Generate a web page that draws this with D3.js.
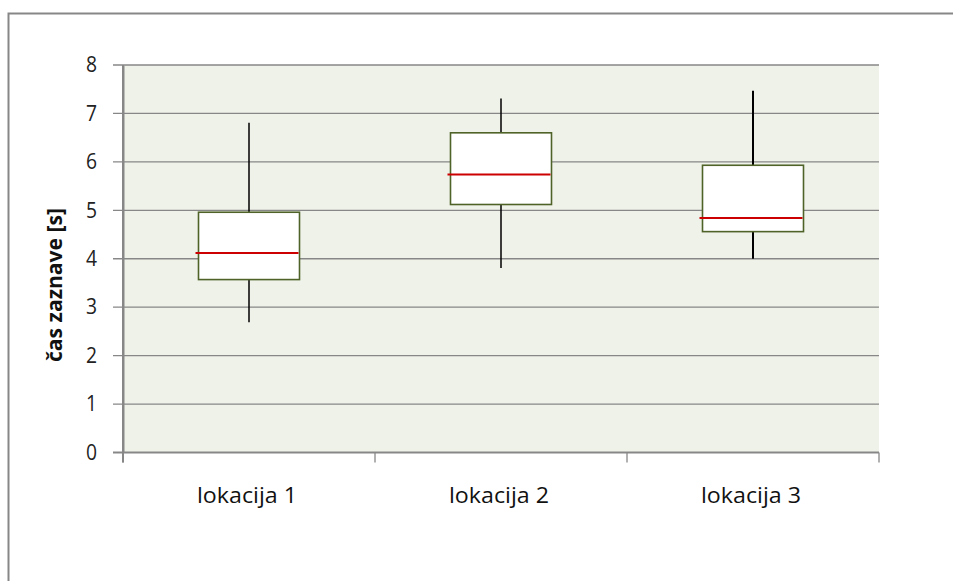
<!DOCTYPE html>
<html><head><meta charset="utf-8">
<script src="https://cdn.jsdelivr.net/npm/d3@7"></script>
<style>body{margin:0;background:#fff}svg{display:block}</style>
</head><body>
<svg id="c" width="953" height="581"></svg>
<script>
const categories = ["lokacija 1", "lokacija 2", "lokacija 3"];
const whiskerLow = [2.69, 3.81, 4.00];
const q1 = [3.57, 5.12, 4.56];
const median = [4.12, 5.74, 4.84];
const q3 = [4.96, 6.60, 5.93];
const whiskerHigh = [6.81, 7.31, 7.47];
const yTicks = [0, 1, 2, 3, 4, 5, 6, 7, 8];
const yTitle = "čas zaznave [s]";

const svg = d3.select("#c");
const m = {l: 123, r: 879, t: 65, b: 452.5};
const font = "'Open Sans', Arial, sans-serif";

// outer frame
svg.append("path").attr("d", "M8.5,581 V13.5 H953").attr("fill", "none")
  .attr("stroke", "#878787").attr("stroke-width", 2);

const x = d3.scaleBand().domain(categories).range([m.l, m.r]);
const y = d3.scaleLinear().domain([0, 8]).range([m.b, m.t]);

svg.append("rect").attr("x", m.l).attr("y", m.t).attr("width", m.r - m.l).attr("height", m.b - m.t)
  .attr("fill", "#eff2e9");

// gridlines
svg.append("g").selectAll("line").data(yTicks).join("line")
  .attr("x1", m.l - 10).attr("x2", m.r).attr("y1", d => y(d)).attr("y2", d => y(d))
  .attr("stroke", "#878787").attr("stroke-width", d => d === 0 ? 2 : 1.3);

// y axis
const yAxis = d3.axisLeft(y).tickValues(yTicks).tickSize(0).tickPadding(26).tickFormat(d3.format("d"));
const gy = svg.append("g").attr("transform", `translate(${m.l},0)`).call(yAxis);
gy.select(".domain").attr("stroke", "#878787").attr("stroke-width", 2);
gy.selectAll("text").attr("font-family", font).attr("font-size", 21).attr("fill", "#222")
  .attr("transform", "scale(0.92,1)").attr("x", -26 / 0.92);

// x axis
const xAxis = d3.axisBottom(x).tickSize(0).tickFormat(d => d);
const gx = svg.append("g").attr("transform", `translate(-2,${m.b})`).call(xAxis);
gx.select(".domain").remove();
gx.selectAll("text").attr("font-family", font).attr("font-size", 21).attr("fill", "#111")
  .attr("dy", 0).attr("y", 50).attr("textLength", 100).attr("lengthAdjust", "spacingAndGlyphs");
// category separator ticks
const sep = [x.range()[0]].concat(categories.map(c => x(c) + x.bandwidth()));
svg.append("g").selectAll("line").data(sep).join("line")
  .attr("x1", d => d).attr("x2", d => d).attr("y1", m.b).attr("y2", m.b + 10)
  .attr("stroke", "#878787").attr("stroke-width", 1.3);
svg.append("line").attr("x1", m.l).attr("x2", m.l).attr("y1", m.t).attr("y2", m.b + 10)
  .attr("stroke", "#878787").attr("stroke-width", 2);

// boxes
const bw = 101;
const idx = d3.range(categories.length);
const cx = i => x(categories[i]) + x.bandwidth() / 2;
const g = svg.append("g");
g.selectAll(".wh").data(idx).join("line")
  .attr("x1", i => cx(i)).attr("x2", i => cx(i))
  .attr("y1", i => y(whiskerHigh[i])).attr("y2", i => y(q3[i]))
  .attr("stroke", "#000").attr("stroke-width", (i) => i === 2 ? 2 : 1.5);
g.selectAll(".wl").data(idx).join("line")
  .attr("x1", i => cx(i)).attr("x2", i => cx(i))
  .attr("y1", i => y(q1[i])).attr("y2", i => y(whiskerLow[i]))
  .attr("stroke", "#000").attr("stroke-width", (i) => i === 2 ? 2 : 1.5);
g.selectAll(".bx").data(idx).join("rect")
  .attr("x", i => cx(i) - bw / 2).attr("width", bw)
  .attr("y", i => y(q3[i])).attr("height", i => y(q1[i]) - y(q3[i]))
  .attr("fill", "#fff").attr("stroke", "#4f6228").attr("stroke-width", 1.6);
g.selectAll(".md").data(idx).join("line")
  .attr("x1", i => cx(i) - bw / 2 - 3).attr("x2", i => cx(i) + bw / 2 - 1)
  .attr("y1", i => y(median[i])).attr("y2", i => y(median[i]))
  .attr("stroke", "#cc0000").attr("stroke-width", 2);

// y title
svg.append("text").attr("transform", "translate(62,285) rotate(-90)")
  .attr("text-anchor", "middle").attr("font-family", font).attr("font-weight", "bold")
  .attr("font-size", 21).attr("fill", "#111")
  .attr("textLength", 154).attr("lengthAdjust", "spacingAndGlyphs").text(yTitle);
</script>
</body></html>
